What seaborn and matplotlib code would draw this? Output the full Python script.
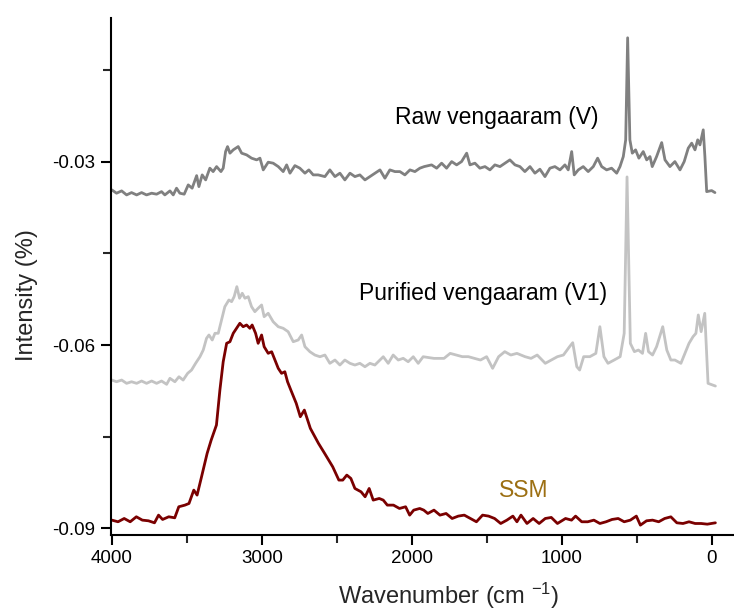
import numpy as np
import pandas as pd
import matplotlib
matplotlib.use("Agg")
import matplotlib.pyplot as plt
import seaborn as sns

# ---- data; intensities in units of 1e-3 % ----
raw_wn = [4000, 3969, 3935, 3902, 3869, 3835, 3802, 3769, 3735, 3702, 3669, 3647, 3613, 3591,
          3569, 3547, 3518, 3491, 3465, 3435, 3420, 3398, 3375, 3347, 3325, 3302, 3273, 3258,
          3242, 3229, 3213, 3191, 3158, 3135, 3102, 3069, 3035, 3013, 2991, 2958, 2925, 2891,
          2858, 2835, 2813, 2780, 2747, 2713, 2687, 2658, 2625, 2580, 2547, 2513, 2480, 2447,
          2413, 2380, 2347, 2313, 2280, 2247, 2213, 2180, 2147, 2113, 2080, 2047, 2013, 1980,
          1947, 1918, 1869, 1835, 1802, 1769, 1735, 1702, 1669, 1635, 1613, 1580, 1547, 1513,
          1480, 1447, 1413, 1380, 1347, 1313, 1280, 1247, 1213, 1180, 1147, 1113, 1080, 1047,
          1013, 980, 958, 935, 918, 891, 858, 825, 791, 762, 735, 702, 669, 635, 613, 591, 575,
          562, 547, 531, 509, 487, 458, 435, 413, 398, 369, 335, 313, 280, 247, 213, 185, 158,
          135, 113, 95, 80, 58, 47, 35, 2, -20]
raw_int = [-34.59, -35.13, -34.75, -35.41, -35.03, -35.41, -35.03, -35.41, -35.13, -35.29,
           -34.87, -35.41, -34.75, -35.41, -34.31, -35.13, -35.29, -33.77, -34.31, -32.25,
           -34.05, -32.13, -32.95, -31.03, -31.59, -30.77, -31.59, -31.03, -28.31, -27.49,
           -28.57, -28.03, -27.49, -28.57, -28.85, -29.39, -29.67, -29.39, -31.31, -30.05,
           -30.21, -30.77, -31.59, -30.49, -31.85, -30.61, -31.03, -31.85, -31.31, -32.13,
           -32.13, -32.41, -31.31, -32.41, -31.85, -32.95, -31.85, -32.41, -32.13, -32.95,
           -32.41, -31.85, -31.31, -32.67, -31.31, -31.59, -31.59, -32.13, -31.31, -31.59,
           -31.03, -30.77, -30.49, -31.03, -30.21, -31.03, -29.95, -30.49, -29.95, -28.57,
           -30.49, -30.21, -31.03, -30.77, -31.31, -30.49, -30.77, -30.21, -29.67, -30.49,
           -30.77, -31.59, -30.77, -31.85, -31.20, -32.41, -31.03, -30.77, -31.31, -30.49,
           -31.31, -28.31, -32.13, -31.31, -30.77, -31.59, -30.77, -29.39, -30.77, -31.31,
           -31.03, -31.85, -30.77, -29.13, -26.39, -9.67, -26.39, -28.57, -28.03, -29.39,
           -28.31, -29.67, -29.13, -30.77, -29.13, -26.84, -29.67, -30.77, -29.95, -31.31,
           -29.95, -27.75, -26.93, -28.03, -26.39, -27.21, -24.75, -29.13, -34.87, -34.70,
           -35.03]

pur_wn = [4000, 3969, 3935, 3902, 3869, 3835, 3802, 3769, 3735, 3702, 3669, 3635, 3613, 3580,
          3553, 3525, 3495, 3469, 3442, 3413, 3391, 3369, 3353, 3331, 3313, 3291, 3269, 3247,
          3220, 3202, 3185, 3167, 3149, 3131, 3113, 3091, 3069, 3047, 3025, 3002, 2985, 2958,
          2925, 2891, 2858, 2825, 2791, 2758, 2735, 2713, 2680, 2647, 2613, 2580, 2547, 2513,
          2480, 2447, 2413, 2380, 2347, 2313, 2280, 2247, 2213, 2191, 2158, 2125, 2091, 2058,
          2025, 1991, 1958, 1925,
          1853, 1786, 1745, 1705, 1664, 1624, 1583, 1543, 1502, 1462,
          1422, 1381, 1341, 1300, 1246, 1206, 1165, 1111, 1071, 1030,
          990, 949, 928, 901, 882, 855, 814, 774, 747, 720,
          693, 652, 612, 585, 566, 544, 517, 490, 463, 442,
          423, 396, 369, 328, 301, 274, 247, 207, 180, 153,
          126, 107, 91, 72, 48, 26, -23]
pur_int = [-65.74, -66.02, -65.74, -66.28, -66.02, -66.28, -65.90, -66.28, -65.90, -66.28,
           -65.90, -66.44, -65.46, -66.02, -65.20, -65.74, -64.64, -64.10, -63.00, -61.92,
           -60.82, -58.90, -58.36, -59.18, -58.08, -58.08, -55.90, -53.72, -52.62, -52.90,
           -52.08, -50.44, -52.34, -51.52, -52.34, -52.08, -53.72, -54.54, -53.98, -53.44,
           -55.36, -54.80, -56.18, -57.00, -57.26, -57.82, -59.46, -59.18, -58.36, -60.28,
           -61.10, -61.64, -61.92, -61.64, -63.00, -62.46, -63.28, -62.46, -63.00, -63.28,
           -63.00, -63.56, -63.00, -63.28, -62.46, -61.92, -63.00, -61.64, -62.46, -62.18,
           -62.74, -61.92, -63.00, -61.92,
           -62.19, -62.19, -61.37, -61.64, -61.91, -61.91, -62.19, -62.46, -61.91, -63.82,
           -61.91, -61.09, -61.64, -61.37, -61.91, -62.19, -61.64, -63.00, -62.46, -61.91,
           -61.64, -60.27, -59.62, -63.55, -64.10, -61.91, -61.91, -61.37, -57.00, -61.91,
           -63.00, -62.46, -61.91, -58.09, -32.46, -59.73, -61.09, -60.82, -61.37, -58.09,
           -61.09, -61.64, -60.27, -57.00, -60.82, -62.46, -62.46, -63.00, -61.37, -59.73,
           -58.63, -58.09, -55.08, -57.81, -54.81, -66.28, -66.72]

ssm_wn = [4000, 3959, 3918, 3878, 3837, 3797, 3756, 3716, 3689, 3662,
          3621, 3581, 3554, 3513, 3486, 3454, 3432, 3405, 3365, 3338,
          3303, 3280, 3258, 3235, 3213, 3191, 3169, 3147, 3125, 3102,
          3080, 3065, 3042, 3025, 3002, 2985, 2958, 2935, 2913, 2891,
          2869, 2847, 2829, 2807, 2771, 2744, 2717, 2677, 2623, 2582,
          2528, 2487, 2461, 2434, 2407, 2380, 2339, 2312, 2285, 2258,
          2218, 2191, 2164, 2123, 2083, 2042, 2015, 1988, 1948, 1921,
          1894, 1853, 1813, 1772, 1732, 1691, 1651, 1610, 1570, 1529,
          1489, 1449, 1408, 1367, 1327, 1300, 1273, 1233, 1192, 1152,
          1111, 1071, 1030, 976, 936, 909, 868, 828, 787, 747,
          706, 666, 625, 585, 544, 504, 477, 436, 396, 355,
          315, 274, 234, 193, 153, 112, 72, 31, -23]
ssm_int = [-88.69, -88.96, -88.42, -88.96, -88.14, -88.69, -88.80, -89.13, -87.87, -88.58,
           -88.14, -88.31, -86.50, -86.23, -85.96, -83.77, -84.59, -81.86, -77.75, -75.57,
           -73.11, -67.38, -62.74, -59.72, -59.46, -58.08, -57.26, -56.44, -57.00, -56.72,
           -57.26, -56.72, -58.08, -59.72, -58.36, -60.28, -61.36, -61.10, -62.46, -63.82,
           -64.64, -64.38, -66.02, -67.38, -69.56, -71.75, -70.66, -73.66, -76.11, -77.75,
           -79.95, -82.13, -82.13, -81.31, -81.86, -83.50, -84.05, -84.86, -83.50, -85.41,
           -85.14, -85.41, -86.23, -86.23, -86.78, -86.50, -87.87, -87.05, -86.78, -87.05,
           -87.60, -87.05, -87.87, -87.60, -88.42, -88.03, -87.87, -88.42, -88.96, -87.87,
           -88.03, -88.42, -89.24, -88.69, -88.03, -88.96, -87.87, -89.24, -88.42, -89.24,
           -88.42, -88.25, -89.24, -88.42, -88.69, -88.03, -88.96, -88.96, -88.69, -89.24,
           -88.96, -88.58, -88.42, -88.96, -88.69, -88.03, -89.51, -88.80, -88.69, -88.96,
           -88.42, -88.15, -89.13, -89.24, -88.96, -89.24, -89.24, -89.35, -89.13]

labels = ["Raw vengaaram (V)", "Purified vengaaram (V1)", "SSM"]
label_wn = [1433, 1527, 1253]
label_int = [-22.79, -51.48, -83.77]
x_ticks = [4000, 3000, 2000, 1000, 0]
y_ticks = [-0.09, -0.06, -0.03]

# ---- style ----
sns.set_theme(style="ticks")
plt.rcParams["font.family"] = ["Liberation Sans", "DejaVu Sans"]
plt.rcParams["mathtext.fontset"] = "custom"
plt.rcParams["mathtext.rm"] = "Liberation Sans"
plt.rcParams["mathtext.it"] = "Liberation Sans"

fig = plt.figure(figsize=(7.34, 6.13), dpi=100)
ax = fig.add_axes([0.151, 0.127, 0.849, 0.844])

series = [(raw_wn, raw_int, "#808080"), (pur_wn, pur_int, "#c3c3c3"), (ssm_wn, ssm_int, "#7a0000")]
for wn, it, col in series:
    df = pd.DataFrame({"wn": wn, "int": np.array(it) * 1e-3})
    sns.lineplot(data=df, x="wn", y="int", ax=ax, color=col, lw=2.0, sort=False,
                 estimator=None, legend=False)

ax.set_xlim(4007, -147)
ax.set_ylim(-0.09115, -0.00639)
ax.set_xticks(x_ticks)
ax.set_xticklabels([str(v) for v in x_ticks])
ax.set_xticks([3500, 2500, 1500, 500], minor=True)
ax.set_yticks(y_ticks)
ax.set_yticklabels(["-0.09", "-0.06", "-0.03"])
ax.set_yticks([-0.075, -0.045, -0.015], minor=True)
ax.tick_params(axis="both", which="major", direction="out", length=7, width=1.5,
               labelsize=13.5, colors="black", pad=4)
ax.tick_params(axis="both", which="minor", direction="out", length=5.5, width=1.5)
for s in ["top", "right"]:
    ax.spines[s].set_visible(False)
for s in ["left", "bottom"]:
    ax.spines[s].set_linewidth(1.5)
    ax.spines[s].set_color("black")

ax.set_xlabel(r"Wavenumber (cm $^{-1}$)", fontsize=17)
ax.set_ylabel("Intensity (%)", fontsize=17)
ax.xaxis.set_label_coords(0.5425, -0.088)
ax.yaxis.set_label_coords(-0.117, 0.464)

text_colors = ["black", "black", "#9c6f12"]
for lab, xw, yi, c in zip(labels, label_wn, label_int, text_colors):
    ax.text(xw, yi * 1e-3, lab, fontsize=16.5, ha="center", va="center", color=c)

fig.savefig("out.png", dpi=100, facecolor="white")
